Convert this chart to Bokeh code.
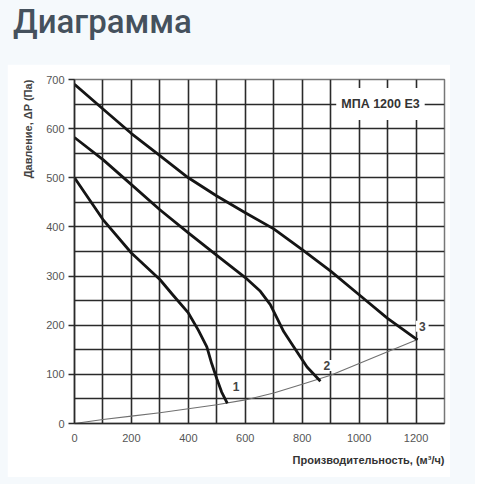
from bokeh.plotting import figure
from bokeh.models import (Div, Label, Title, FixedTicker, Range1d, Spacer)
from bokeh.layouts import column, row
from bokeh.embed import file_html
from bokeh.resources import INLINE

# ---- data ----
flow_1 = [0, 100, 200, 300, 345, 400, 435, 465, 482, 500, 517, 537]
press_1 = [500, 415, 347, 293, 262, 225, 190, 156, 122, 91, 64, 41]

flow_2 = [0, 100, 200, 300, 400, 500, 600, 653, 688, 712, 735, 770, 817, 864]
press_2 = [582, 537, 486, 435, 388, 342, 297, 269, 242, 214, 187, 156, 115, 86]

flow_3 = [0, 100, 200, 300, 400, 500, 600, 700, 800, 900, 1000, 1100, 1205]
press_3 = [690, 640, 590, 545, 500, 463, 429, 396, 354, 310, 262, 214, 170]

flow_sys = [0, 100, 200, 300, 400, 500, 600, 700, 800, 900, 1000, 1100, 1205]
press_sys = [0, 8, 15, 22, 30, 38, 48, 62, 80, 98, 122, 146, 171]

curve_labels = ["1", "2", "3"]
label_x = [568, 887, 1222]
label_y = [75, 118, 198]

model_name = "МПА 1200 E3"
x_ticks = [0, 200, 400, 600, 800, 1000, 1200]
y_ticks = [0, 100, 200, 300, 400, 500, 600, 700]
x_grid = list(range(0, 1301, 100))
y_grid = list(range(0, 701, 50))

PAGE_BG = "#f5f9fc"
GRID = "#2a2a2a"

title_div = Div(
    text="Диаграмма", width=475, height=54,
    styles={"font-family": "Roboto", "font-size": "33px", "font-weight": "500",
            "color": "#45515d", "line-height": "1", "padding-top": "0px",
            "padding-left": "8px"},
)

p = figure(width=443, height=413, x_range=Range1d(0, 1300), y_range=Range1d(0, 700),
           output_backend="svg", toolbar_location=None,
           min_border_left=67, min_border_right=6, min_border_top=15, min_border_bottom=54,
           border_fill_color="white", background_fill_color="white")
p.outline_line_color = "#777777"
p.outline_line_width = 1.5

p.xgrid.ticker = FixedTicker(ticks=x_grid)
p.ygrid.ticker = FixedTicker(ticks=y_grid)
for g in (p.xgrid, p.ygrid):
    g.grid_line_color = GRID
    g.grid_line_width = 1.6
    g.grid_line_alpha = 1.0

p.xaxis.ticker = FixedTicker(ticks=x_ticks)
p.yaxis.ticker = FixedTicker(ticks=y_ticks)
for ax in (p.xaxis, p.yaxis):
    ax.axis_line_color = GRID
    ax.axis_line_width = 1.6
    ax.major_tick_line_color = GRID
    ax.major_tick_line_width = 1.3
    ax.minor_tick_line_color = None
    ax.major_tick_in = 0
    ax.major_label_text_font = "Liberation Sans"
    ax.major_label_text_font_size = "11px"
    ax.major_label_text_color = "#555555"
p.yaxis.major_tick_out = 6
p.yaxis.major_label_standoff = 4
p.xaxis.major_tick_out = 0
p.xaxis.major_label_standoff = 10

# system curve
p.line(flow_sys, press_sys, line_color="#707070", line_width=1.1)
# fan curves
for fx, fy in ((flow_1, press_1), (flow_2, press_2), (flow_3, press_3)):
    p.line(fx, fy, line_color="#151515", line_width=2.8, line_join="round")

for t, lx, ly in zip(curve_labels, label_x, label_y):
    p.add_layout(Label(x=lx, y=ly, text=t, text_align="center", text_baseline="middle",
                       text_font="Liberation Sans", text_font_style="bold",
                       text_font_size="12px", text_color="#444444",
                       background_fill_color="white",
                       padding=dict(left=3, right=3, top=1, bottom=1)))

p.add_layout(Label(x=1075, y=650, text=model_name, text_align="center",
                   text_baseline="middle", text_font="Liberation Sans",
                   text_font_style="bold", text_font_size="12.5px", text_color="#333333",
                   background_fill_color="white",
                   padding=dict(left=5, right=5, top=9, bottom=9)))

p.add_layout(Title(text="Давление, ΔP (Па)", align="right", text_font="Liberation Sans",
                   text_font_style="bold", text_font_size="11px", text_color="#444444",
                   standoff=20), "left")
p.add_layout(Title(text="Производительность, (м³/ч)", align="right",
                   text_font="Liberation Sans", text_font_style="bold",
                   text_font_size="11px", text_color="#333333", standoff=15), "below")

layout = column(title_div, row(Spacer(width=7, height=413), p), width=475, height=484,
                styles={"background-color": PAGE_BG})

open("out.html", "w").write(file_html(layout, INLINE))
